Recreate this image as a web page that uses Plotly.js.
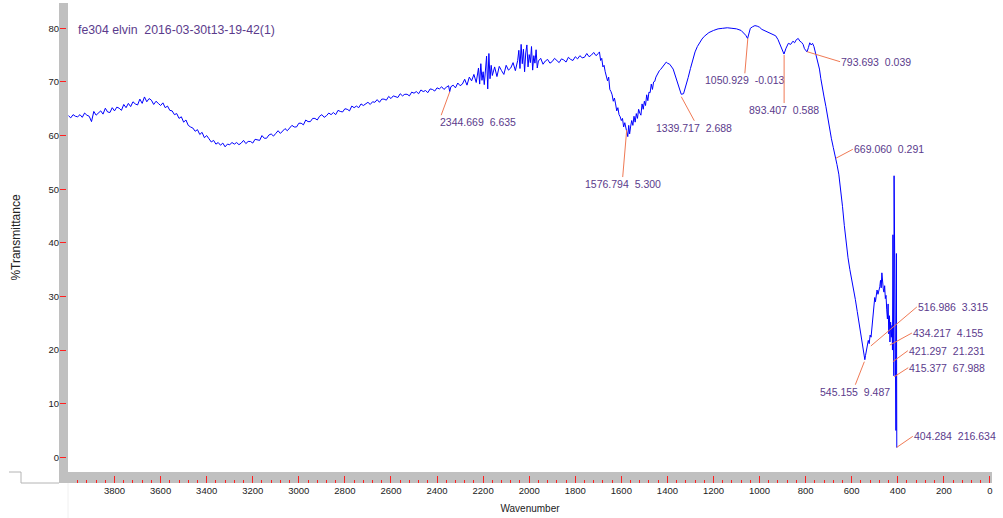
<!DOCTYPE html>
<html>
<head>
<meta charset="utf-8">
<script src="https://cdn.plot.ly/plotly-3.0.1.min.js"></script>
<style>
  html, body { margin: 0; padding: 0; background: #ffffff; }
  #chart { width: 1003px; height: 518px; }
</style>
</head>
<body>
<div id="chart"></div>
<script>
// ---------------- data ----------------
const chartTitle = 'fe304 elvin  2016-03-30t13-19-42(1)';
const xTitle = 'Wavenumber';
const yTitle = '%Transmittance';

const xTickVals = [3800, 3600, 3400, 3200, 3000, 2800, 2600, 2400, 2200, 2000, 1800, 1600, 1400, 1200, 1000, 800, 600, 400, 200, 0];
const yTickVals = [0, 10, 20, 30, 40, 50, 60, 70, 80];

// spectrum segments: wavenumber (cm-1) and % transmittance
const wnA = [4000,3990,3980,3970,3960,3950,3940,3930,3920,3910,3900,3890,3880,3870,3860,3850,3840,3830,3820,3810,
             3800,3790,3780,3770,3760,3750,3740,3730,3720,3710,3700,3690,3680,3670,3660,3650,3640,3630,3620,3610,
             3600,3590,3580,3570,3560];
const tA  = [63.7,63.3,63.9,63.6,63.5,63.9,63.4,64.2,63.8,63.6,62.6,64.5,63.8,64.3,64.6,64.0,65.1,64.4,64.3,65.2,
             64.6,65.3,65.1,64.7,65.8,65.2,66.0,65.4,66.3,65.9,65.7,66.8,66.0,67.2,66.3,66.9,66.6,65.8,66.4,66.0,
             65.6,66.1,65.2,65.5,64.7];

const wnB = [3550,3540,3530,3520,3510,3500,3490,3480,3470,3460,3450,3440,3430,3420,3410,3400,3390,3380,3370,3360,
             3350,3340,3330,3320,3310,3300];
const tB  = [64.6,63.9,64.1,63.2,63.5,62.5,62.9,61.9,61.6,61.4,60.8,61.1,60.2,60.6,59.6,60.0,59.4,58.8,59.1,58.4,
             58.7,58.2,58.6,57.9,58.4,58.3];

const wnC = [3290,3280,3270,3260,3250,3240,3230,3220,3210,3200,3190,3180,3170,3160,3150,3140,3130,3120,3110,3100,
             3090,3080,3070,3060,3050,3040,3030,3020,3010,3000,2990,2980,2970,2960,2950,2940,2930,2920,2910,2900,
             2890,2880,2870,2860,2850,2840,2830,2820,2810,2800,2790,2780,2770,2760,2750,2740,2730,2720,2710,2700,
             2690,2680,2670,2660,2650,2640,2630,2620,2610,2600,2590,2580,2570,2560,2550,2540,2530,2520,2510,2500,
             2490,2480,2470,2460,2450,2440,2430,2420,2410,2400];
const tC  = [58.7,58.4,58.7,58.3,58.6,59.1,58.5,58.9,58.9,58.6,59.3,59.2,59.1,60.0,59.5,59.5,60.1,60.3,59.9,60.4,
             60.9,60.4,60.8,61.3,60.9,61.4,61.9,61.6,61.6,62.3,62.3,62.0,62.9,62.6,62.6,63.2,63.2,62.9,63.6,63.9,
             63.4,63.7,64.2,63.9,64.3,63.9,64.7,64.5,64.4,65.0,64.9,64.6,65.5,65.2,65.5,65.2,65.9,65.6,65.9,66.2,
             65.8,66.3,66.2,66.7,66.2,66.8,66.8,66.6,67.3,66.9,67.4,67.2,67.1,67.8,67.4,67.7,67.7,67.4,68.1,67.9,
             68.2,67.8,68.5,68.2,68.4,68.0,68.7,68.6,68.3,68.9];

const wnD = [2390,2380,2370,2360,2350,2345,2340,2330,2320,2310,2300,2290,2280,2270,2260,2250,2240,2230,2220,2215,
             2210,2205,2200,2195,2190,2185,2180,2175,2170,2165,2160];
const tD  = [68.7,69.1,68.6,69.0,69.3,68.2,69.1,69.4,68.9,69.8,69.3,69.6,70.5,69.4,70.9,70.2,71.4,69.9,72.6,69.6,
             73.4,70.3,71.9,69.5,72.2,74.8,68.7,75.3,70.6,73.1,71.2];

const wnE = [2150,2140,2130,2120,2110,2100,2090,2080,2070,2060,2050,2045,2040,2035,2030,2025,2020,2015,2010,2005,
             2000,1995,1990,1985,1980,1975,1970,1965];
const tE  = [72.8,71.0,72.9,72.1,71.4,73.1,72.2,72.6,73.6,72.1,74.0,75.9,72.5,77.0,73.4,76.1,71.9,75.4,76.9,72.8,
             75.1,73.6,76.6,72.2,74.9,73.5,76.0,72.6];

const wnF = [1960,1950,1940,1930,1920,1910,1900,1890,1880,1870,1860,1850,1840,1830,1820,1810,1800,1790,1780,1770,
             1760,1750,1740,1730,1720,1710,1700];
const tF  = [73.9,74.4,73.3,73.9,74.2,73.5,73.8,74.4,73.9,73.6,74.3,74.1,73.7,74.6,74.2,74.0,74.7,74.3,74.9,74.5,
             74.6,75.3,74.7,75.0,75.5,74.9,75.3];

const wnG = [1695,1690,1685,1680,1675,1670,1665,1660,1655,1650,1645,1640,1635,1630,1625,1620,1615,1610,1605,1600,
             1595,1590,1585,1580,1576,1572,1568,1564,1560,1555,1550,1545,1540,1535,1530,1525,1520,1515,1510,1505,
             1500,1495,1490,1485,1480,1475,1470,1465,1460,1455,1450,1445,1440,1435,1430];
const tG  = [75.6,74.0,74.4,72.8,73.1,71.9,70.7,70.2,70.9,68.6,68.2,67.6,66.4,67.0,65.9,64.6,65.2,63.9,63.5,62.8,
             63.2,61.6,62.4,61.2,60.6,59.8,61.9,60.3,61.6,62.8,61.9,63.6,62.5,64.1,63.2,64.9,64.2,63.8,65.9,64.9,
             66.4,65.6,67.6,66.5,68.1,68.0,69.6,68.6,70.0,70.1,70.9,71.4,71.6,72.1,72.3];

const wnH = [1420,1410,1405,1400,1390,1375,1360,1350,1340,1330,1320,1310,1300,1290,1280,1270,1260,1250,
             1240,1230,1220,1200,1180,1160,1140,1120,1100,1080,1070,1060,1052,1045,1040,1030,1020,1010,1000,990,
             980,970,960,950,940,930,920,910,900,894,885,875,865,855,848,840,832,825,818,811,
             805,800,794,788,782,776,770,764,758,752,746,740,734,728,720,712,704,696,688,680,
             672,669,664,656,648,640,632,624,616,608,600,592,584,576,568,560,552,546,543,540,
             536,532,528,524,520,516,512,508,504,500,497,494,490,486,482,478,475,472,469,466,
             463,460,457,454,451,448,445,442,439,436,434,431,428,425,423,421,419,417,416,414,
             412,410,408,406,404.3];
const tH  = [72.9,73.4,73.7,73.5,73.3,72.4,70.5,69.2,67.7,67.8,69.2,70.8,72.5,74.2,75.6,76.6,77.4,78.0,
             78.5,78.9,79.2,79.6,79.9,80.0,80.1,80.0,79.9,79.6,79.2,78.7,78.1,79.2,80.0,80.3,80.5,80.4,80.2,79.8,
             79.6,79.4,79.3,79.1,78.9,78.6,77.9,76.8,75.8,75.2,76.3,77.2,77.0,77.6,77.3,77.9,78.1,77.6,77.4,77.0,
             76.2,75.8,75.6,76.4,77.3,76.9,77.2,76.6,75.6,74.6,73.8,72.4,70.6,68.8,67.2,65.4,63.2,61.3,59.4,57.8,
             56.4,55.8,54.6,52.8,50.2,46.8,43.2,39.8,37.2,35.0,33.2,31.6,29.4,27.2,25.0,23.0,20.8,19.4,18.2,19.0,
             20.0,20.6,21.8,21.2,22.8,22.4,24.0,26.0,27.6,29.8,29.0,30.2,31.2,30.4,31.0,31.8,33.0,31.6,34.4,32.2,
             31.4,30.8,32.0,29.6,30.2,27.5,25.8,28.6,23.0,26.4,21.5,25.2,22.4,24.6,20.0,41.5,17.4,15.2,52.5,42.0,
             14.8,8.0,5.0,38.0,1.8];

const wavenumber = [].concat(wnA, wnB, wnC, wnD, wnE, wnF, wnG, wnH);
const transmittance = [].concat(tA, tB, tC, tD, tE, tF, tG, tH);

// peak labels
const peakWn = [2344.669, 1576.794, 1339.717, 1050.929, 893.407, 793.693, 669.060, 545.155, 516.986, 434.217, 421.297, 415.377, 404.284];
const peakT  = [68.18, 61.03, 67.24, 78.13, 75.02, 75.64, 55.76, 17.83, 20.76, 20.94, 17.83, 15.03, 1.86];
const peakIntensity = ['6.635', '5.300', '2.688', '-0.013', '0.588', '0.039', '0.291', '9.487', '3.315', '4.155', '21.231', '67.988', '216.634'];

// ---------------- styles / placement ----------------
const FONT = 'Liberation Sans, Arial, Helvetica, sans-serif';
const labelColor = '#5b3b8c';
const leaderColor = '#f07a55';
const barGray = '#c0c0c0';

// leader-label offsets in pixels (ax, ay) and anchors
const labelPlace = [
  {ax: -11, ay: 30, xa: 'left', ya: 'middle'},
  {ax: -4, ay: 47, xa: 'center', ya: 'top'},
  {ax: 13, ay: 24, xa: 'center', ya: 'top'},
  {ax: -3, ay: 35, xa: 'center', ya: 'top'},
  {ax: 0, ay: 48, xa: 'center', ya: 'top'},
  {ax: 33, ay: 10, xa: 'left', ya: 'middle'},
  {ax: 17, ay: -9, xa: 'left', ya: 'middle'},
  {ax: -9, ay: 23, xa: 'center', ya: 'top'},
  {ax: 46, ay: -39, xa: 'left', ya: 'middle'},
  {ax: 22, ay: -12, xa: 'left', ya: 'middle'},
  {ax: 15, ay: -11, xa: 'left', ya: 'middle'},
  {ax: 14, ay: -9, xa: 'left', ya: 'middle'},
  {ax: 16, ay: -11, xa: 'left', ya: 'middle'}
];

const W = 1003, H = 518;
const mL = 59, mR = 11, mT = 3, mB = 35;
const paperW = W - mL - mR, paperH = H - mT - mB;
const xd0 = 9 / paperW;   // y gray bar width
const yd0 = 11 / paperH;  // x gray band height

const annotations = peakWn.map((wn, i) => ({
  x: wn, y: peakT[i], xref: 'x', yref: 'y',
  text: wn.toFixed(3) + '\u00a0\u00a0' + peakIntensity[i],
  showarrow: true, arrowhead: 0, arrowwidth: 1, arrowcolor: leaderColor,
  standoff: 0, startstandoff: 0,
  ax: labelPlace[i].ax, ay: labelPlace[i].ay,
  xanchor: labelPlace[i].xa, yanchor: labelPlace[i].ya,
  borderpad: 0,
  font: {family: FONT, size: 10.5, color: labelColor}
}));

const px = v => (v - mL) / paperW;
const py = v => (H - mB - v) / paperH;

const shapes = [
  {type: 'rect', xref: 'paper', yref: 'paper', x0: 0, x1: xd0, y0: 0, y1: 1, fillcolor: barGray, line: {width: 0}, layer: 'below'},
  {type: 'rect', xref: 'paper', yref: 'paper', x0: 0, x1: 1, y0: 0, y1: yd0, fillcolor: barGray, line: {width: 0}, layer: 'below'},
  {type: 'path', xref: 'paper', yref: 'paper',
   path: 'M' + px(9) + ',' + py(472) + ' L' + px(21) + ',' + py(472) + ' L' + px(21) + ',' + py(483) + ' L' + px(59) + ',' + py(483),
   line: {color: '#b4b4b4', width: 1}, layer: 'below'},
  {type: 'line', xref: 'paper', yref: 'paper', x0: xd0, x1: xd0, y0: py(483), y1: py(518),
   line: {color: '#f0f0f0', width: 1}, layer: 'below'}
];

const trace = {
  type: 'scatter', mode: 'lines',
  x: wavenumber, y: transmittance,
  line: {color: '#0000ff', width: 1},
  hoverinfo: 'skip'
};

const layout = {
  width: W, height: H,
  margin: {l: mL, r: mR, t: mT, b: mB, pad: 0},
  paper_bgcolor: '#ffffff', plot_bgcolor: '#ffffff',
  showlegend: false,
  title: {
    text: chartTitle, xref: 'container', yref: 'container',
    x: 78 / W, xanchor: 'left', y: 1 - 30 / H, yanchor: 'middle',
    font: {family: FONT, size: 12.3, color: labelColor}
  },
  xaxis: {
    domain: [xd0, 1], anchor: 'free', position: 0,
    range: [4002, -9], autorange: false,
    tickmode: 'array', tickvals: xTickVals, ticktext: xTickVals.map(String),
    ticks: 'inside', ticklen: 7, tickwidth: 1, tickcolor: '#ff2020',
    minor: {dtick: 40, tick0: 0, ticks: 'inside', ticklen: 3.5, tickwidth: 1, tickcolor: '#ff2020', showgrid: false},
    showgrid: false, zeroline: false, showline: false,
    tickfont: {family: FONT, size: 9.5, color: '#222222'},
    title: {text: xTitle, font: {family: FONT, size: 10, color: '#222222'}, standoff: 10},
    automargin: false
  },
  yaxis: {
    domain: [yd0, 1], anchor: 'free', position: 0,
    range: [-2.74, 84.72], autorange: false,
    tickmode: 'array', tickvals: yTickVals, ticktext: yTickVals.map(String),
    ticks: 'inside', ticklen: 6, tickwidth: 1, tickcolor: '#ff2020',
    showgrid: false, zeroline: false, showline: false,
    tickfont: {family: FONT, size: 9.5, color: '#222222'},
    title: {text: yTitle, font: {family: FONT, size: 12, color: '#222222'}, standoff: 24},
    automargin: false
  },
  shapes: shapes,
  annotations: annotations
};

Plotly.newPlot('chart', [trace], layout, {displayModeBar: false, staticPlot: true});
</script>
</body>
</html>
